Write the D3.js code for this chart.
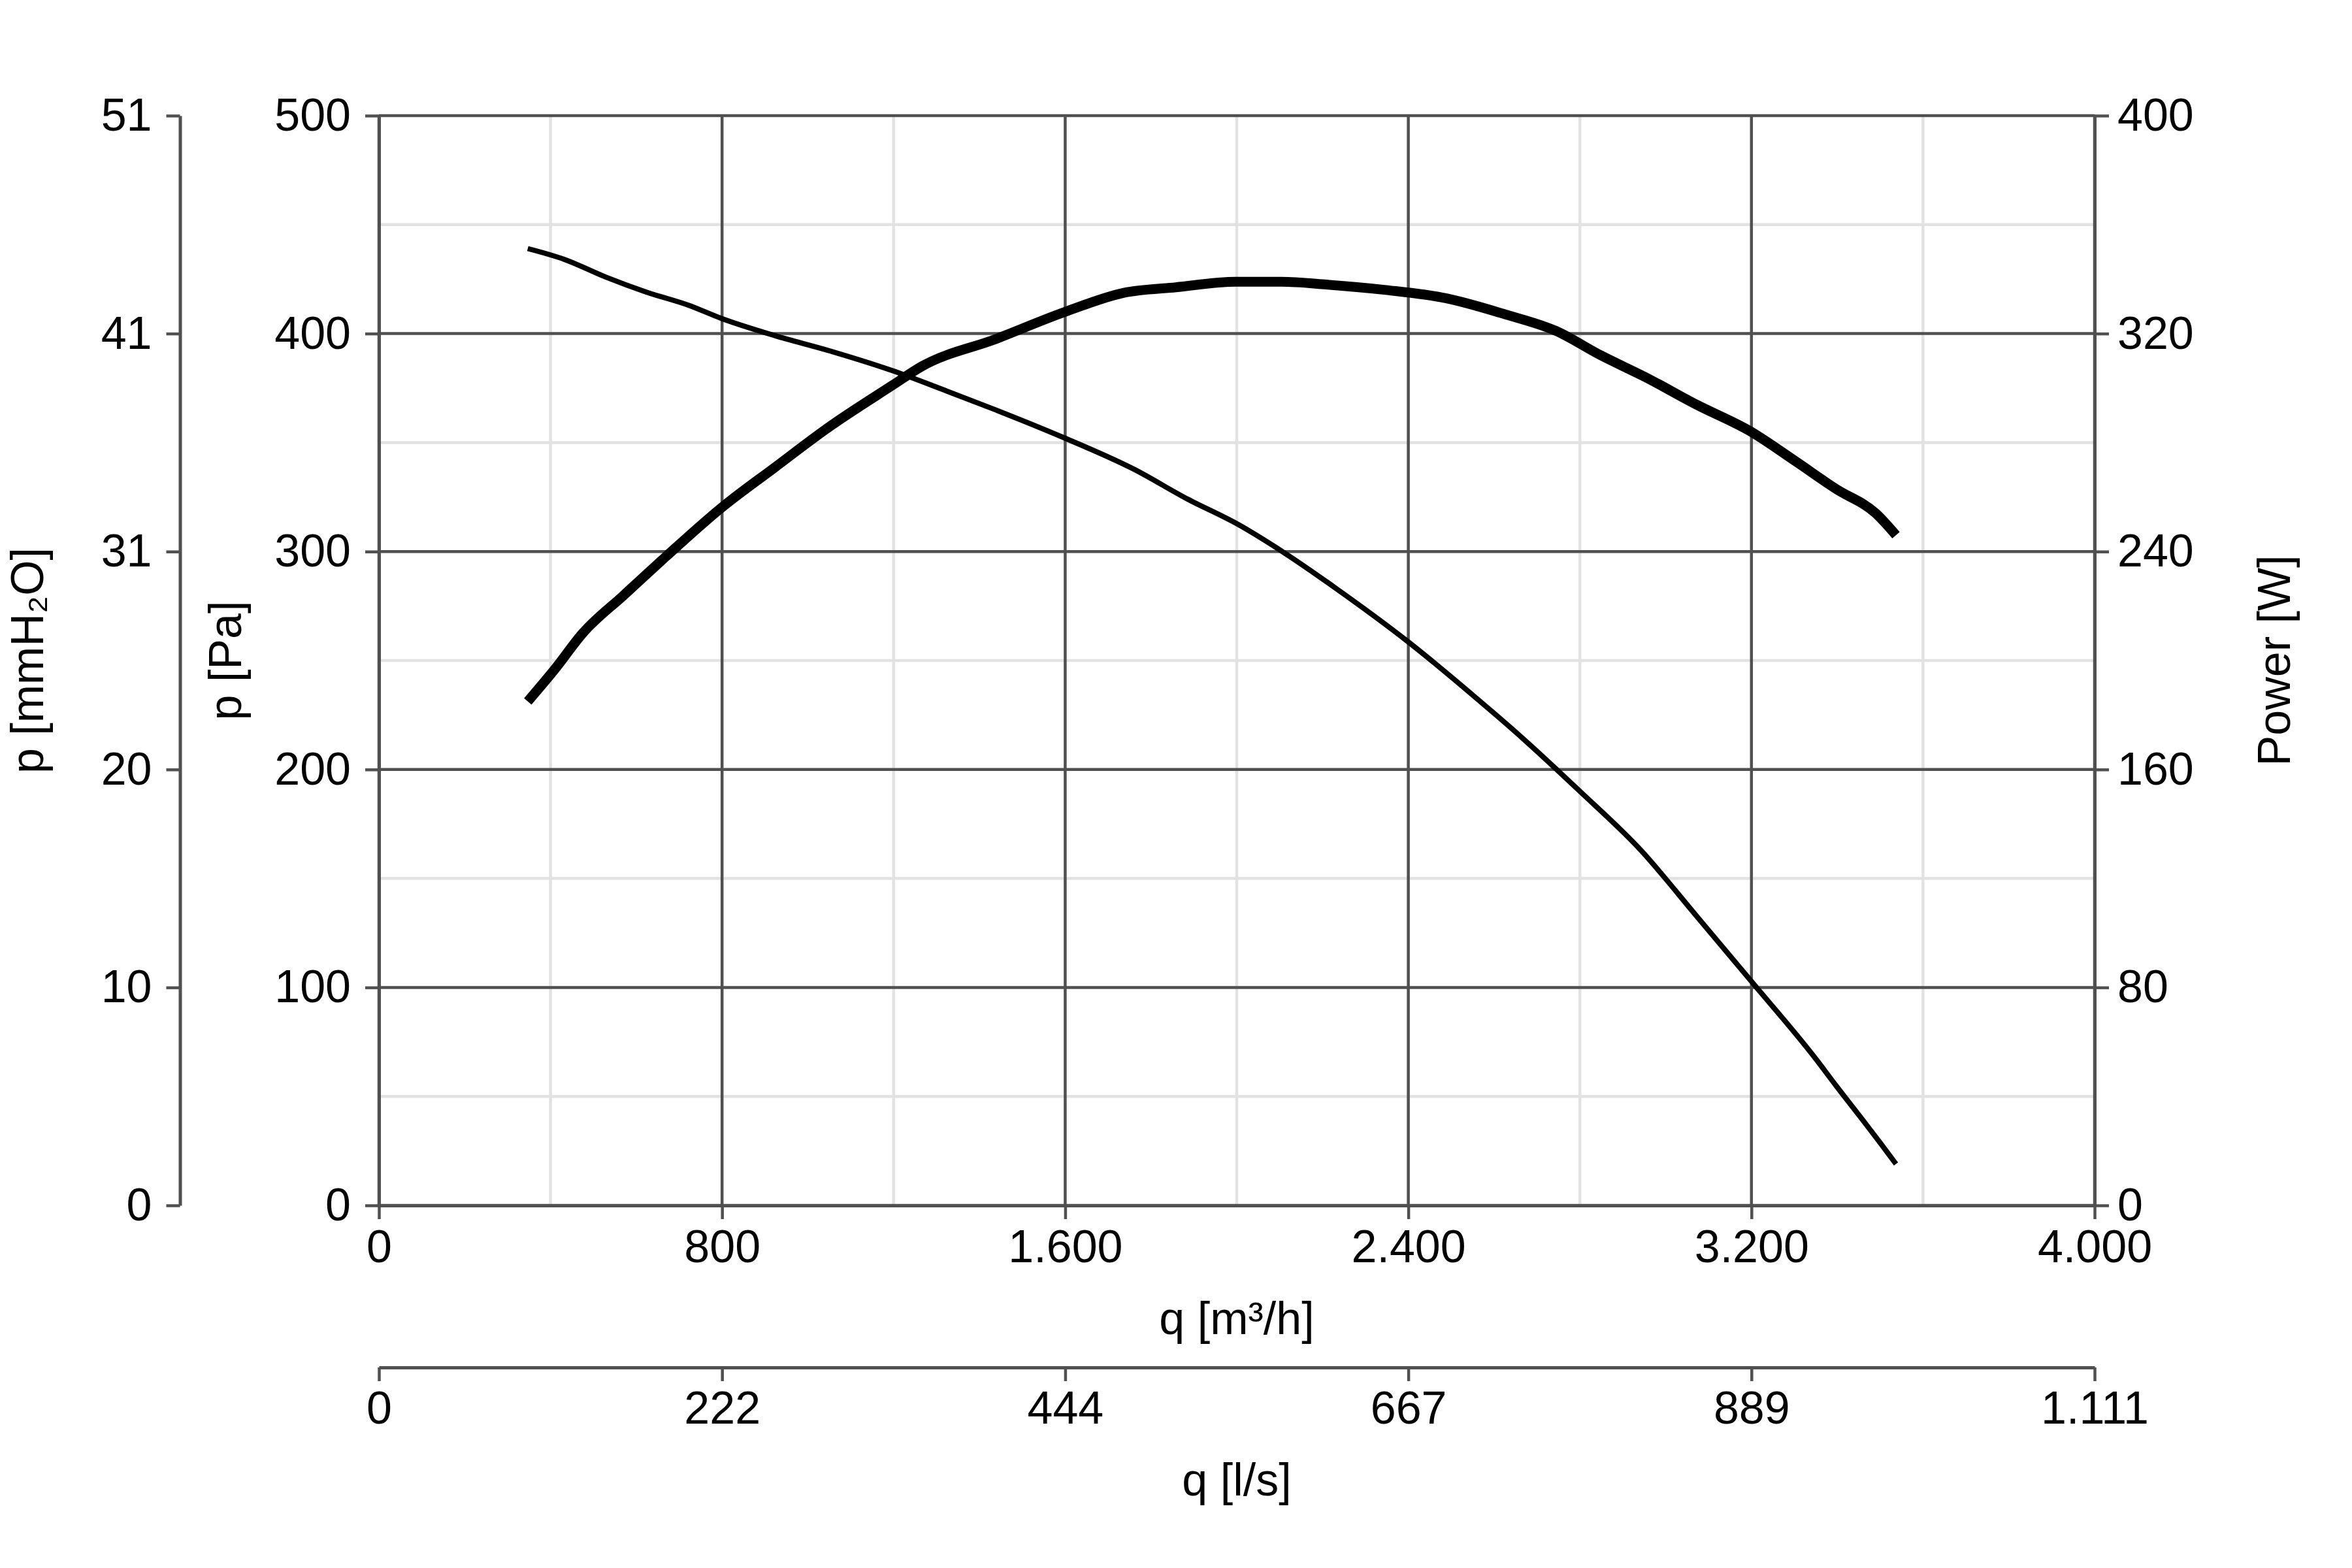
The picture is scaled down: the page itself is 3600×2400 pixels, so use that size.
<!DOCTYPE html>
<html>
<head>
<meta charset="utf-8">
<script src="https://cdn.jsdelivr.net/npm/d3@7"></script>
<style>
  html, body { margin: 0; padding: 0; background: #fff; }
  svg text { font-family: "Liberation Sans", Arial, sans-serif; fill: #000; }
</style>
</head>
<body>
<svg width="3600" height="2400"></svg>
<script>
// Fan curve
// flow q in m³/h, static pressure in Pa, power in W
const pressureFlow = [347, 433, 528, 624, 722, 798, 924, 1052, 1197, 1319, 1438, 1600, 1758, 1886, 1998, 2114, 2232, 2397, 2557, 2674, 2800, 2942, 3071, 3199, 3351, 3397, 3468, 3499, 3537];
const pressurePa   = [439, 434, 426, 419, 413, 407, 399, 392, 383, 374, 365, 352, 338, 324, 313, 299, 283, 259, 233, 213, 190, 163, 133, 103, 67, 55, 37, 29, 19];

const powerFlow = [347, 411, 475, 571, 668, 798, 924, 1052, 1197, 1266, 1438, 1600, 1737, 1858, 1998, 2104, 2209, 2348, 2487, 2627, 2744, 2849, 2953, 3071, 3199, 3304, 3397, 3490, 3537];
const powerW    = [185, 197, 210, 224, 238, 256, 271, 286, 301, 308, 318, 328, 335, 337, 339, 339, 338, 336, 333, 327, 321, 312, 304, 294, 284, 273, 263, 254, 246];

// tick values
const flowTicks = [0, 800, 1600, 2400, 3200, 4000];
const flowMinor = [400, 1200, 2000, 2800, 3600];
const paTicks = [0, 100, 200, 300, 400, 500];
const paMinor = [50, 150, 250, 350, 450];
const powerTicks = [0, 80, 160, 240, 320, 400];

const PA_PER_MMH2O = 9.80665;
const M3H_PER_LS = 3.6;

// German number format: 1.600, 4.000
const de = d3.formatLocale({ decimal: ",", thousands: ".", grouping: [3], currency: ["", " €"] });
const fmt = de.format(",d");

const svg = d3.select("svg");
const margin = { top: 177, right: 394, bottom: 555, left: 580 };
const width = +svg.attr("width") - margin.left - margin.right;
const height = +svg.attr("height") - margin.top - margin.bottom;

const g = svg.append("g").attr("transform", `translate(${margin.left},${margin.top})`);

// scales
const x = d3.scaleLinear().domain([0, 4000]).range([0, width]);
const xLs = d3.scaleLinear().domain([0, 4000 / M3H_PER_LS]).range([0, width]);
const y = d3.scaleLinear().domain([0, 500]).range([height, 0]);
const yMm = d3.scaleLinear().domain([0, 500 / PA_PER_MMH2O]).range([height, 0]);
const yW = d3.scaleLinear().domain([0, 400]).range([height, 0]);

const majorColor = "#505050";
const minorColor = "#e2e2e2";
const fontSize = 70;

// minor grid
g.append("g").selectAll("line").data(flowMinor).join("line")
  .attr("x1", d => x(d)).attr("x2", d => x(d))
  .attr("y1", 0).attr("y2", height)
  .attr("stroke", minorColor).attr("stroke-width", 4.5);
g.append("g").selectAll("line").data(paMinor).join("line")
  .attr("x1", 0).attr("x2", width)
  .attr("y1", d => y(d)).attr("y2", d => y(d))
  .attr("stroke", minorColor).attr("stroke-width", 4.5);

// major grid
g.append("g").selectAll("line").data(flowTicks).join("line")
  .attr("x1", d => x(d)).attr("x2", d => x(d))
  .attr("y1", 0).attr("y2", height)
  .attr("stroke", majorColor).attr("stroke-width", 4.5);
g.append("g").selectAll("line").data(paTicks).join("line")
  .attr("x1", 0).attr("x2", width)
  .attr("y1", d => y(d)).attr("y2", d => y(d))
  .attr("stroke", majorColor).attr("stroke-width", 4.5);

// curves
const pressureLine = d3.line()
  .x((d, i) => x(pressureFlow[i]))
  .y(d => y(d))
  .curve(d3.curveMonotoneX);
const powerLine = d3.line()
  .x((d, i) => x(powerFlow[i]))
  .y(d => yW(d))
  .curve(d3.curveMonotoneX);

g.append("path")
  .attr("d", pressureLine(pressurePa))
  .attr("fill", "none").attr("stroke", "#000")
  .attr("stroke-width", 8).attr("stroke-linejoin", "round");
g.append("path")
  .attr("d", powerLine(powerW))
  .attr("fill", "none").attr("stroke", "#000")
  .attr("stroke-width", 15).attr("stroke-linejoin", "round");

// axis styling helper
function style(sel) {
  sel.selectAll("path, line").attr("stroke", majorColor).attr("stroke-width", 4.5);
  sel.selectAll("text").attr("font-size", fontSize).attr("fill", "#000")
    .attr("font-family", '"Liberation Sans", Arial, sans-serif');
  sel.select(".domain").attr("stroke-width", 5);
}

// bottom axis m³/h
g.append("g").attr("transform", `translate(0,${height})`)
  .call(d3.axisBottom(x).tickValues(flowTicks).tickFormat(fmt).tickSize(21).tickPadding(16).tickSizeOuter(0))
  .call(style);

// left axis Pa
g.append("g")
  .call(d3.axisLeft(y).tickValues(paTicks).tickFormat(fmt).tickSize(21).tickPadding(22).tickSizeOuter(0))
  .call(style);

// right axis W
g.append("g").attr("transform", `translate(${width},0)`)
  .call(d3.axisRight(yW).tickValues(powerTicks).tickFormat(fmt).tickSize(22).tickPadding(13).tickSizeOuter(0))
  .call(style);

// far left axis mmH2O (same positions as Pa ticks)
g.append("g").attr("transform", `translate(${275.5 - margin.left},0)`)
  .call(d3.axisLeft(yMm).tickValues(paTicks.map(d => d / PA_PER_MMH2O))
    .tickFormat(d => fmt(Math.round(d))).tickSize(21).tickPadding(22).tickSizeOuter(0))
  .call(style);

// second bottom axis l/s
g.append("g").attr("transform", `translate(0,${2093 - margin.top})`)
  .call(d3.axisBottom(xLs).tickValues(flowTicks.map(d => d / M3H_PER_LS))
    .tickFormat(d => fmt(Math.round(d))).tickSize(21).tickPadding(15).tickSizeOuter(0))
  .call(style);

// axis titles
const cx = margin.left + width / 2;
const cy = margin.top + height / 2;

svg.append("text")
  .attr("x", cx).attr("y", 2042)
  .attr("text-anchor", "middle").attr("font-size", fontSize)
  .text("q [m³/h]");

svg.append("text")
  .attr("x", cx).attr("y", 2289)
  .attr("text-anchor", "middle").attr("font-size", fontSize)
  .text("q [l/s]");

svg.append("text")
  .attr("transform", `translate(369,${cy}) rotate(-90)`)
  .attr("text-anchor", "middle").attr("font-size", fontSize)
  .text("p [Pa]");

svg.append("text")
  .attr("transform", `translate(66,${cy}) rotate(-90)`)
  .attr("text-anchor", "middle").attr("font-size", fontSize)
  .text("p [mmH₂O]");

svg.append("text")
  .attr("transform", `translate(3505,${cy}) rotate(-90)`)
  .attr("text-anchor", "middle").attr("font-size", fontSize)
  .text("Power [W]");
</script>
</body>
</html>
